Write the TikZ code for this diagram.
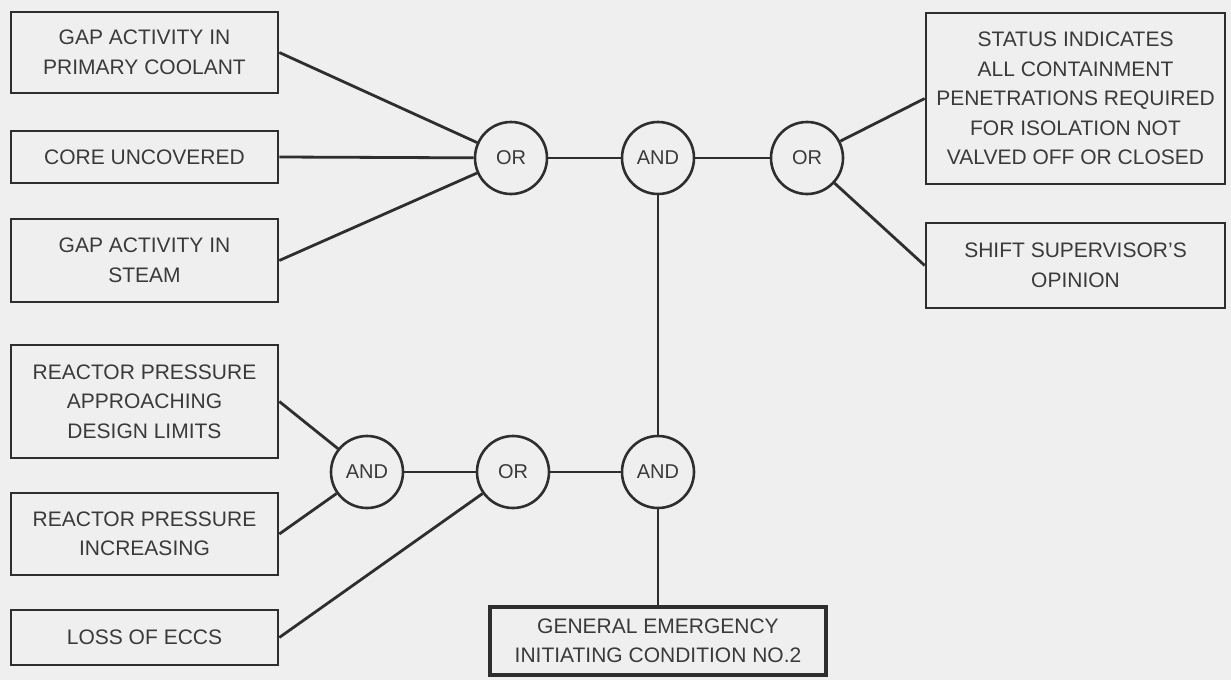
\documentclass[tikz,border=0pt]{standalone}
\usepackage{fontspec}
\setmainfont{Liberation Sans}
\usepackage{xcolor}
\usepackage{tikz}
\usetikzlibrary{calc}
\definecolor{paperT}{HTML}{EFEFEF}
\definecolor{inkline}{HTML}{2E2E2E}
\definecolor{inktext}{HTML}{3A3A3A}

\begin{document}
\begin{tikzpicture}[x=1pt, y=-1pt,
  evbox/.style={rectangle, draw=inkline, line width=2.6pt, fill=paperT, inner sep=0pt, minimum width=267pt, align=center, text=inktext, font=\fontsize{21}{29.5}\selectfont},
  gatec/.style={circle, draw=inkline, line width=2.6pt, fill=paperT, minimum size=72pt, inner sep=0pt, text=inktext, font=\fontsize{20}{24}\selectfont},
]
\fill[paperT] (0,0) rectangle (1231,680);
\useasboundingbox (0,0) rectangle (1231,680);

% inputs, left column
\node[evbox, minimum height=81pt] (gpc) at (144.5,52.5) {GAP ACTIVITY IN\\PRIMARY COOLANT};
\node[evbox, minimum height=52pt] (cu) at (144.5,157) {CORE UNCOVERED};
\node[evbox, minimum height=83pt] (gst) at (144.5,260.5) {GAP ACTIVITY IN\\STEAM};
\node[evbox, minimum height=113pt] (rpd) at (144.5,401.5) {REACTOR PRESSURE\\APPROACHING\\DESIGN LIMITS};
\node[evbox, minimum height=82pt] (rpi) at (144.5,534) {REACTOR PRESSURE\\INCREASING};
\node[evbox, minimum height=55pt] (le) at (144.5,637.5) {LOSS OF ECCS};

% inputs, right column
\node[evbox, minimum width=299pt, minimum height=171pt] (st) at (1075.5,98.5) {STATUS INDICATES\\ALL CONTAINMENT\\PENETRATIONS REQUIRED\\FOR ISOLATION NOT\\VALVED OFF OR CLOSED};
\node[evbox, minimum width=299pt, minimum height=85pt] (ss) at (1075.5,265.5) {SHIFT SUPERVISOR'S\\OPINION};

% gates
\node[gatec] (or1) at (511,158) {OR};
\node[gatec] (and1) at (658,158) {AND};
\node[gatec] (or2) at (807,158) {OR};
\node[gatec] (and2) at (367,472) {AND};
\node[gatec] (or3) at (513,472) {OR};
\node[gatec] (and3) at (658,472) {AND};

% result
\node[evbox, line width=3.8pt, minimum width=336pt, minimum height=68pt] (ge) at (658,641) {GENERAL EMERGENCY\\INITIATING CONDITION NO.2};

% connectors
\draw[inkline, line width=2.8pt] (gpc.east) -- (or1);
\draw[inkline, line width=2.8pt] (cu.east) -- (or1);
\draw[inkline, line width=2.8pt] (gst.east) -- (or1);
\draw[inkline, line width=2.8pt] (or1) -- (and1);
\draw[inkline, line width=2.8pt] (and1) -- (or2);
\draw[inkline, line width=2.8pt] (or2) -- (st.west);
\draw[inkline, line width=2.8pt] (or2) -- (ss.west);
\draw[inkline, line width=2.8pt] (and1) -- (and3);
\draw[inkline, line width=2.8pt] (rpd.east) -- (and2);
\draw[inkline, line width=2.8pt] (rpi.east) -- (and2);
\draw[inkline, line width=2.8pt] (and2) -- (or3);
\draw[inkline, line width=2.8pt] (le.east) -- (or3);
\draw[inkline, line width=2.8pt] (or3) -- (and3);
\draw[inkline, line width=2.8pt] (and3) -- (ge.north);
\end{tikzpicture}
\end{document}
